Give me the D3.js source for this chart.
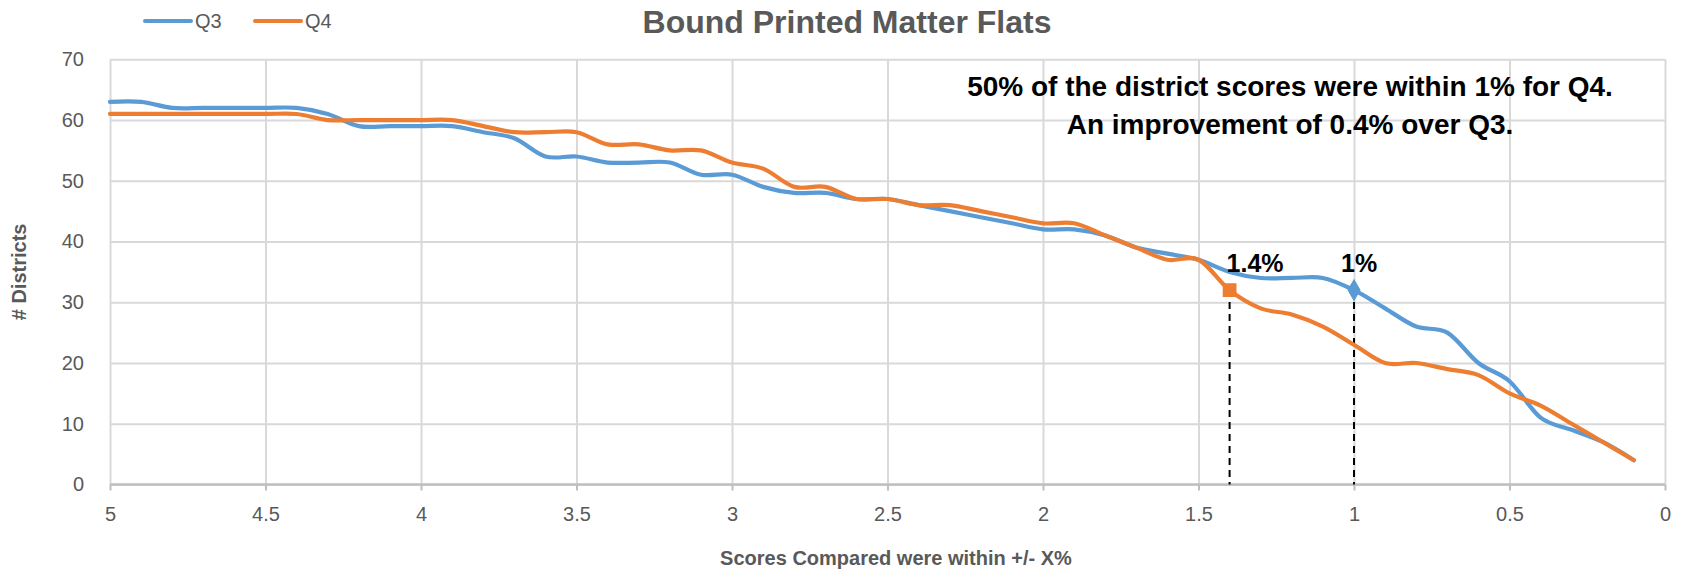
<!DOCTYPE html>
<html>
<head>
<meta charset="utf-8">
<script src="https://cdn.jsdelivr.net/npm/d3@7/dist/d3.min.js"></script>
<style>
  html, body { margin: 0; padding: 0; background: #ffffff; }
  svg { display: block; font-family: "Liberation Sans", Arial, sans-serif; }
</style>
</head>
<body>
<svg id="chart" width="1682" height="570"></svg>
<script>
// Tolerance levels (percent), from 5.0 down to 0.1
const tolerance = [5.0, 4.9, 4.8, 4.7, 4.6, 4.5, 4.4, 4.3, 4.2, 4.1,
                   4.0, 3.9, 3.8, 3.7, 3.6, 3.5, 3.4, 3.3, 3.2, 3.1,
                   3.0, 2.9, 2.8, 2.7, 2.6, 2.5, 2.4, 2.3, 2.2, 2.1,
                   2.0, 1.9, 1.8, 1.7, 1.6, 1.5, 1.4, 1.3, 1.2, 1.1,
                   1.0, 0.9, 0.8, 0.7, 0.6, 0.5, 0.4, 0.3, 0.2, 0.1];

// Number of districts within each tolerance
const q3Districts = [63, 63, 62, 62, 62, 62, 62, 61, 59, 59,
                     59, 59, 58, 57, 54, 54, 53, 53, 53, 51,
                     51, 49, 48, 48, 47, 47, 46, 45, 44, 43,
                     42, 42, 41, 39, 38, 37, 35, 34, 34, 34,
                     32, 29, 26, 25, 20, 17, 11, 9, 7, 4];

const q4Districts = [61, 61, 61, 61, 61, 61, 61, 60, 60, 60,
                     60, 60, 59, 58, 58, 58, 56, 56, 55, 55,
                     53, 52, 49, 49, 47, 47, 46, 46, 45, 44,
                     43, 43, 41, 39, 37, 37, 32, 29, 28, 26,
                     23, 20, 20, 19, 18, 15, 13, 10, 7, 4];

const seriesNames = ["Q3", "Q4"];
const seriesColors = ["#5b9bd5", "#ed7d31"];

// Axis ticks
const xTicks = [5, 4.5, 4, 3.5, 3, 2.5, 2, 1.5, 1, 0.5, 0];
const yTicks = [0, 10, 20, 30, 40, 50, 60, 70];

// Points where half the districts fall within the tolerance
const halfPoints = [
  { series: 1, tolerance: 1.4, districts: 32, shape: "square", dx: -3 },
  { series: 0, tolerance: 1.0, districts: 32, shape: "diamond", dx: -13 }
];

const titleText = "Bound Printed Matter Flats";
const xTitle = "Scores Compared were within +/- X%";
const yTitle = "# Districts";
const noteLines = ["50% of the district scores were within 1% for Q4.",
                   "An improvement of 0.4% over Q3."];

const svg = d3.select("#chart");
const W = 1682, H = 570;
const m = { left: 110, right: 17, top: 59.3, bottom: 85.5 };
const pw = W - m.left - m.right, ph = H - m.top - m.bottom;

const x = d3.scaleLinear().domain([5, 0]).range([m.left, m.left + pw]);
const y = d3.scaleLinear().domain([0, 70]).range([m.top + ph, m.top]);

const grey = "#595959";
const gridColor = "#d9d9d9";

// Horizontal gridlines and y labels
const yAxis = svg.append("g")
  .attr("transform", `translate(${m.left},0)`)
  .call(d3.axisLeft(y).tickValues(yTicks).tickSize(-pw).tickPadding(26).tickFormat(d3.format("d")));
yAxis.select(".domain").remove();
yAxis.selectAll(".tick line").attr("stroke", gridColor).attr("stroke-width", 2);
yAxis.selectAll(".tick text").attr("fill", grey).style("font-size", "20px");

// Vertical gridlines and x labels
const xAxis = svg.append("g")
  .attr("transform", `translate(0,${m.top + ph})`)
  .call(d3.axisBottom(x).tickValues(xTicks).tickSize(-ph).tickPadding(22).tickFormat(d3.format("~g")));
xAxis.select(".domain").remove();
xAxis.selectAll(".tick line").attr("stroke", gridColor).attr("stroke-width", 2);
xAxis.selectAll(".tick text").attr("fill", grey).style("font-size", "20px");

// Small tick marks below the horizontal axis
svg.append("g")
  .attr("transform", `translate(0,${m.top + ph})`)
  .call(d3.axisBottom(x).tickValues(xTicks).tickSize(6).tickFormat(""))
  .call(g => g.select(".domain").remove())
  .call(g => g.selectAll(".tick line").attr("stroke", "#bfbfbf").attr("stroke-width", 2));

// Axis line at zero
svg.append("line")
  .attr("x1", x(5)).attr("x2", x(0))
  .attr("y1", y(0)).attr("y2", y(0))
  .attr("stroke", "#bfbfbf").attr("stroke-width", 2.5);

// Dashed drop lines from the half-way points
svg.append("g").selectAll("line")
  .data(halfPoints).join("line")
  .attr("x1", d => x(d.tolerance)).attr("x2", d => x(d.tolerance))
  .attr("y1", d => y(d.districts)).attr("y2", y(0))
  .attr("stroke", "#000").attr("stroke-width", 2)
  .attr("stroke-dasharray", "7,5");

// Series lines
const series = [q3Districts, q4Districts];
const line = d3.line()
  .x((d, i) => x(tolerance[i]))
  .y(d => y(d))
  .curve(d3.curveCardinal.tension(0));

svg.append("g").selectAll("path")
  .data(series).join("path")
  .attr("d", d => line(d))
  .attr("fill", "none")
  .attr("stroke", (d, i) => seriesColors[i])
  .attr("stroke-width", 4.2)
  .attr("stroke-linejoin", "round")
  .attr("stroke-linecap", "round");

// Markers
const sym = { square: d3.symbolSquare, diamond: d3.symbolDiamond };
svg.append("g").selectAll("path")
  .data(halfPoints).join("path")
  .attr("transform", d => `translate(${x(d.tolerance)},${y(d.districts)})`)
  .attr("d", d => d3.symbol(sym[d.shape], d.shape === "square" ? 190 : 150)())
  .attr("fill", d => seriesColors[d.series]);

// Marker labels
svg.append("g").selectAll("text")
  .data(halfPoints).join("text")
  .attr("x", d => x(d.tolerance) + d.dx)
  .attr("y", y(32) - 18)
  .attr("fill", "#000")
  .style("font-size", "25px").style("font-weight", "bold")
  .text(d => `${d.tolerance}%`);

// Note text
svg.append("g").selectAll("text")
  .data(noteLines).join("text")
  .attr("x", 1290)
  .attr("y", (d, i) => 96 + i * 38)
  .attr("text-anchor", "middle")
  .attr("fill", "#000")
  .style("font-size", "28px").style("font-weight", "bold")
  .text(d => d);

// Title
svg.append("text")
  .attr("x", 847).attr("y", 33)
  .attr("text-anchor", "middle")
  .attr("fill", grey)
  .style("font-size", "32px").style("font-weight", "bold")
  .text(titleText);

// Axis titles
svg.append("text")
  .attr("x", 896).attr("y", 565)
  .attr("text-anchor", "middle")
  .attr("fill", grey)
  .style("font-size", "20px").style("font-weight", "bold")
  .text(xTitle);

svg.append("text")
  .attr("transform", `translate(26,${m.top + ph / 2}) rotate(-90)`)
  .attr("text-anchor", "middle")
  .attr("fill", grey)
  .style("font-size", "20px").style("font-weight", "bold")
  .text(yTitle);

// Legend
const legend = svg.append("g").selectAll("g")
  .data(seriesNames).join("g")
  .attr("transform", (d, i) => `translate(${145 + i * 110},21)`);
legend.append("line")
  .attr("x1", 0).attr("x2", 46)
  .attr("stroke", (d, i) => seriesColors[i])
  .attr("stroke-width", 4).attr("stroke-linecap", "round");
legend.append("text")
  .attr("x", 50).attr("y", 7)
  .attr("fill", grey)
  .style("font-size", "20px")
  .text(d => d);
</script>
</body>
</html>
